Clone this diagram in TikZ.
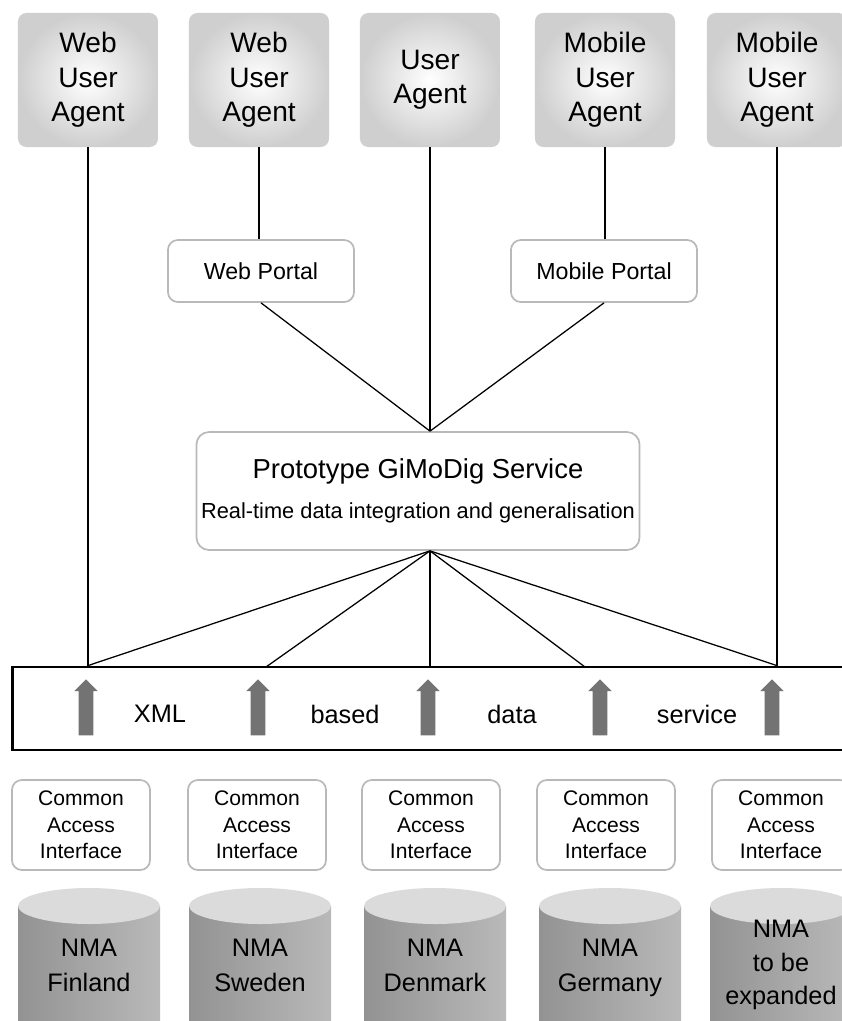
\documentclass[tikz,border=0pt]{standalone}
\usepackage{fontspec}
\setmainfont{Liberation Sans}
\usetikzlibrary{positioning,shapes.arrows}

\begin{document}
\begin{tikzpicture}[x=0.025cm, y=-0.025cm,
    agent/.style={
      rounded corners=6pt, inner color=white, outer color=gray!38,
      minimum width=35mm, minimum height=33.5mm,
      align=center, font=\fontsize{20}{24.5}\selectfont},
    portal/.style={
      draw=gray!55, line width=1.2pt, rounded corners=7pt, fill=white,
      minimum width=46.5mm, minimum height=15.5mm,
      font=\fontsize{16.5}{19}\selectfont},
    service/.style={
      draw=gray!55, line width=1.2pt, rounded corners=9pt, fill=white,
      minimum width=110.5mm, minimum height=29.5mm,
      align=center, font=\fontsize{19.5}{23}\selectfont},
    bar/.style={
      draw=black, line width=2pt, fill=white,
      minimum width=212mm, minimum height=20.75mm},
    bartext/.style={font=\fontsize{18}{22}\selectfont},
    uparr/.style={
      single arrow, rotate=90, fill=black!55,
      inner xsep=0pt, inner ysep=1.75mm,
      minimum height=14mm, single arrow head extend=1.1mm},
    cai/.style={
      draw=gray!55, line width=1.2pt, rounded corners=7pt, fill=white,
      minimum width=34.5mm, minimum height=22.5mm,
      align=center, font=\fontsize{15}{19}\selectfont},
    dbbody/.style={left color=gray!85, right color=gray!55},
    dbtop/.style={fill=gray!28},
    dbtext/.style={align=center, font=\fontsize{18}{25}\selectfont},
    link/.style={line width=0.9pt}
  ]
  \fill[white] (0,0) rectangle (842,1021);
  \useasboundingbox (0,0) rectangle (842,1021);
  \clip (0,0) rectangle (842,1021);

  % user agents
  \node[agent] (wua1) at (88,80) {Web\\User\\Agent};
  \node[agent] (wua2) at (259,80) {Web\\User\\Agent};
  \node[agent] (ua) at (430,80) {User\\Agent};
  \node[agent] (mua1) at (605,80) {Mobile\\User\\Agent};
  \node[agent] (mua2) at (777,80) {Mobile\\User\\Agent};

  % portals and service
  \node[portal] (webp) at (261,271) {Web Portal};
  \node[portal] (mobp) at (604,271) {Mobile Portal};
  \node[service] (gimodig) at (418,491) {%
    Prototype GiMoDig Service\\[5pt]
    {\fontsize{15.5}{18}\selectfont Real-time data integration and generalisation}};

  % XML service bar
  \node[bar] (xml) at (437,708.5) {};
  \foreach \x [count=\i] in {86,258,428,600,772}
    \node[uparr] (up\i) at (\x,711) {};
  \node[bartext] (w1) at (160,714) {XML};
  \node[bartext] (w2) at (345,714) {based};
  \node[bartext] (w3) at (512,714) {data};
  \node[bartext] (w4) at (697,714) {service};

  % access interfaces
  \foreach \x [count=\i] in {81,257,431,606,781}
    \node[cai] (cai\i) at (\x,825) {Common\\Access\\Interface};

  % national mapping agencies
  \foreach \x in {89,260,435,610,781} {
    \shade[dbbody] (\x-71,906) rectangle (\x+71,1030);
    \fill[dbtop] (\x,906) ellipse [x radius=71, y radius=18];
  }
  \node[dbtext] (fin) at (89,965) {NMA\\Finland};
  \node[dbtext] (swe) at (260,965) {NMA\\Sweden};
  \node[dbtext] (den) at (435,965) {NMA\\Denmark};
  \node[dbtext] (ger) at (610,968) {NMA\\Germany};
  \node[dbtext, font=\fontsize{18}{24}\selectfont] (exp) at (781,965) {NMA\\to be\\expanded};

  % connections
  \coordinate (hubtop) at (ua.south |- gimodig.north);
  \coordinate (hubbot) at (ua.south |- gimodig.south);
  \coordinate (in1) at (wua1.south |- xml.north);
  \coordinate (in2) at (266,667);
  \coordinate (in3) at (ua.south |- xml.north);
  \coordinate (in4) at (585,667);
  \coordinate (in5) at (mua2.south |- xml.north);
  \draw[link] (wua1.south) -- (in1);
  \draw[link] (wua2.south) -- (wua2.south |- webp.north);
  \draw[link] (ua.south) -- (hubtop);
  \draw[link] (mua1.south) -- (mua1.south |- mobp.north);
  \draw[link] (mua2.south) -- (in5);
  \draw[link] (webp.south) -- (hubtop);
  \draw[link] (mobp.south) -- (hubtop);
  \foreach \i in {1,...,5}
    \draw[link] (hubbot) -- (in\i);
\end{tikzpicture}
\end{document}
